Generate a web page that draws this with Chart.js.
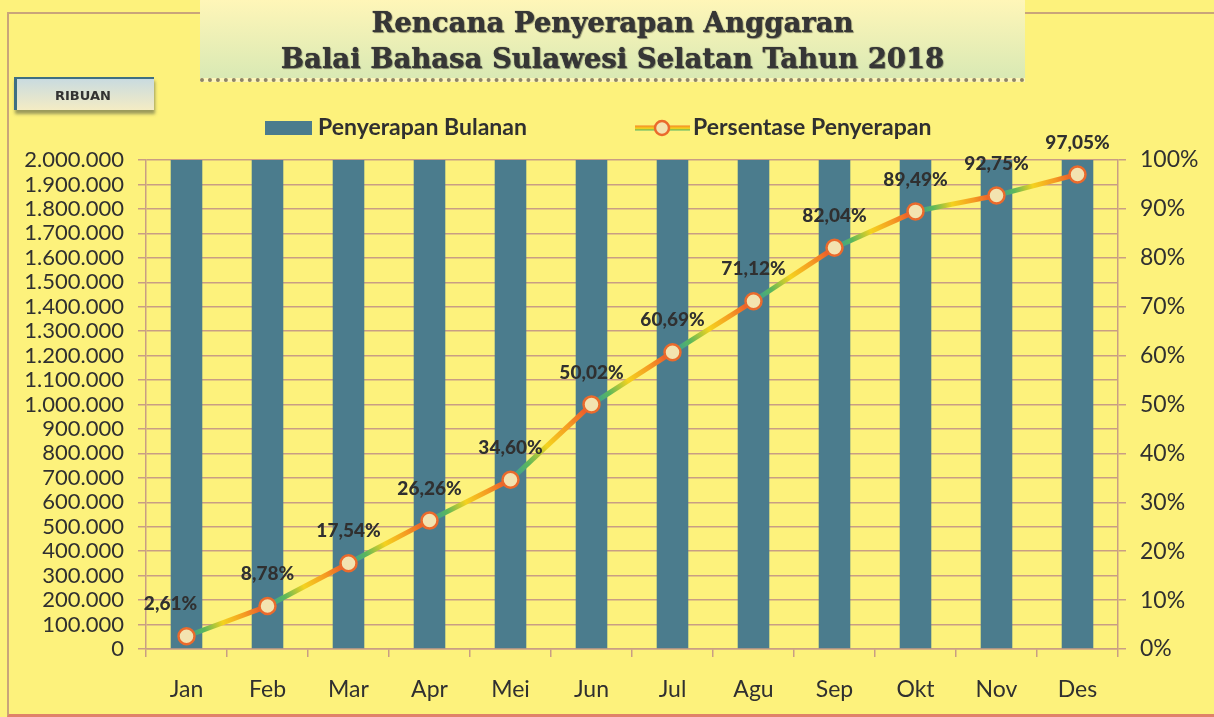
<!DOCTYPE html>
<html>
<head>
<meta charset="utf-8">
<script src="https://cdn.jsdelivr.net/npm/chart.js@4.4.1/dist/chart.umd.min.js"></script>
<style>
  body { margin: 0; background: #fdf27c; }
  #wrap { position: relative; width: 1214px; height: 717px; background: #fdf27c; overflow: hidden; }
  #frame { position: absolute; left: 7px; top: 12px; width: 1210px; height: 700px;
           border-left: 2px solid #c9a57a; border-top: 2px solid #c9a57a; border-bottom: 3px solid #e0826a; }
  #title { position: absolute; left: 200px; top: 0; width: 825px; height: 82px;
           background: linear-gradient(#fff6b8, #d9e9b4);
           border-bottom: 4px dotted #8e8466; text-align: center;
           font-family: "DejaVu Serif", serif; font-weight: bold; font-size: 27.5px; color: #363636;
           line-height: 36px; padding-top: 4px; box-sizing: border-box;
           text-shadow: 1px 1px 1px rgba(0,0,0,0.4), 0 0 1px #363636; }
  #ribuan { position: absolute; left: 14px; top: 77px; width: 140px; height: 33px;
            background: linear-gradient(#c9dbe0, #f4ecc4);
            border-top: 2px solid #3f6f82; border-left: 3px solid #3f6f82;
            box-shadow: 1px 4px 3px rgba(60,70,60,0.5);
            font-family: "DejaVu Sans", sans-serif; font-weight: bold; font-size: 13px; color: #333;
            line-height: 33px; padding-left: 38px; box-sizing: border-box; }
  canvas { position: absolute; left: 0; top: 0; }
</style>
</head>
<body>
<div id="wrap">
  <div id="frame"></div>
  <canvas id="chart" width="1214" height="717"></canvas>
  <div id="title">Rencana Penyerapan Anggaran<br>Balai Bahasa Sulawesi Selatan Tahun 2018</div>
  <div id="ribuan">RIBUAN</div>
</div>
<script>
const months = ["Jan", "Feb", "Mar", "Apr", "Mei", "Jun", "Jul", "Agu", "Sep", "Okt", "Nov", "Des"];
const monthly = [2000000, 2000000, 2000000, 2000000, 2000000, 2000000, 2000000, 2000000, 2000000, 2000000, 2000000, 2000000];
const percent = [2.61, 8.78, 17.54, 26.26, 34.60, 50.02, 60.69, 71.12, 82.04, 89.49, 92.75, 97.05];
const barLabel = "Penyerapan Bulanan";
const lineLabel = "Persentase Penyerapan";

const canvas = document.getElementById("chart");
const g = canvas.getContext("2d");
const gridColor = "#c99e84";
const textColor = "#303030";
const barColor = "#4b7c8d";

function rainbow(x0, y0, x1, y1) {
    const grad = g.createLinearGradient(x0, y0, x1, y1);
    grad.addColorStop(0, "#2f96a8");
    grad.addColorStop(0.22, "#5db85a");
    grad.addColorStop(0.45, "#f4d21e");
    grad.addColorStop(0.72, "#f59a22");
    grad.addColorStop(1, "#e8442e");
    return grad;
}

function fmtPct(v) {
    return v.toFixed(2).replace(".", ",") + "%";
}

const labelPlugin = {
    id: "labels",
    afterDatasetsDraw(chart) {
        const ctx = chart.ctx;
        const meta = chart.getDatasetMeta(1);
        ctx.save();
        ctx.font = "900 19px Lato";
        ctx.fillStyle = textColor;
        ctx.textAlign = "center";
        ctx.textBaseline = "middle";
        meta.data.forEach((pt, i) => {
            const dx = i === 0 ? -16 : 0;
            ctx.fillText(fmtPct(percent[i]), pt.x + dx, pt.y - 32);
        });
        ctx.restore();
    },
    afterDraw(chart) {
        const ctx = chart.ctx;
        ctx.save();
        ctx.fillStyle = barColor;
        ctx.fillRect(265, 121, 47, 14);
        ctx.font = "bold 23px Lato";
        ctx.fillStyle = textColor;
        ctx.textBaseline = "middle";
        ctx.fillText(barLabel, 318, 128);
        ctx.lineWidth = 5;
        ctx.strokeStyle = rainbow(635, 132, 635, 124);
        ctx.beginPath();
        ctx.moveTo(635, 128);
        ctx.lineTo(690, 128);
        ctx.stroke();
        ctx.beginPath();
        ctx.arc(662, 128, 7, 0, Math.PI * 2);
        ctx.fillStyle = "#f3e3b0";
        ctx.fill();
        ctx.lineWidth = 2.5;
        ctx.strokeStyle = "#ea6a2c";
        ctx.stroke();
        ctx.fillStyle = textColor;
        ctx.fillText(lineLabel, 693, 128);
        ctx.restore();
    }
};

new Chart(g, {
    type: "bar",
    data: {
        labels: months,
        datasets: [
            {
                type: "bar",
                label: barLabel,
                data: monthly,
                backgroundColor: barColor,
                barPercentage: 0.39,
                categoryPercentage: 1,
                yAxisID: "y",
                order: 1
            },
            {
                type: "line",
                label: lineLabel,
                data: percent,
                yAxisID: "y1",
                borderWidth: 5,
                borderColor: "#f4a020",
                segment: {
                    borderColor: c => rainbow(c.p0.x, c.p0.y, c.p1.x, c.p1.y)
                },
                pointRadius: 8,
                pointBorderWidth: 2.5,
                pointBackgroundColor: "#f3e3b0",
                pointBorderColor: "#ea6a2c",
                tension: 0,
                order: 0
            }
        ]
    },
    options: {
        responsive: false,
        animation: false,
        layout: { padding: { top: 160, left: 0, right: 0, bottom: 0 } },
        plugins: {
            legend: { display: false },
            tooltip: { enabled: false }
        },
        scales: {
            x: {
                afterFit: s => { s.height = 68; },
                grid: { offset: true, drawOnChartArea: false, color: gridColor, lineWidth: 1.5, tickLength: 8 },
                border: { color: gridColor, width: 1.5 },
                ticks: { color: textColor, font: { family: "Lato", size: 23 }, padding: 19 }
            },
            y: {
                position: "left",
                min: 0,
                max: 2000000,
                afterFit: s => { s.width = 146; },
                grid: { color: gridColor, lineWidth: 1.5, tickLength: 8 },
                border: { color: gridColor, width: 1.5 },
                ticks: {
                    stepSize: 100000,
                    autoSkip: false,
                    color: textColor,
                    padding: 14,
                    font: { family: "Lato", size: 22 },
                    callback: v => v.toString().replace(/\B(?=(\d{3})+(?!\d))/g, ".")
                }
            },
            y1: {
                position: "right",
                min: 0,
                max: 100,
                afterFit: s => { s.width = 96; },
                grid: { drawOnChartArea: false, color: gridColor, lineWidth: 1.5, tickLength: 8 },
                border: { color: gridColor, width: 1.5 },
                ticks: {
                    stepSize: 10,
                    color: textColor,
                    padding: 14,
                    font: { family: "Lato", size: 23 },
                    callback: v => v + "%"
                }
            }
        }
    },
    plugins: [labelPlugin]
});
</script>
</body>
</html>
